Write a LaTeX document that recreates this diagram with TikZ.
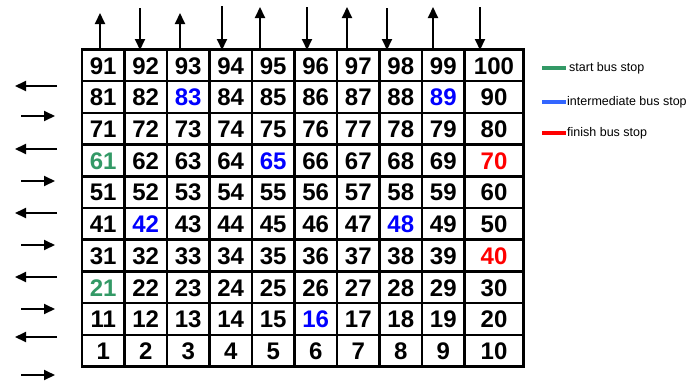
\documentclass[tikz,border=0pt]{standalone}
\usepackage{fontspec}
\setmainfont{Liberation Sans}
\usetikzlibrary{positioning, arrows.meta}
\definecolor{startgreen}{HTML}{339966}
\definecolor{midblue}{HTML}{0000FF}
\definecolor{legblue}{HTML}{3366FF}
\definecolor{finishred}{HTML}{FF0000}

\tikzset{
  cell/.style={draw, line width=2.5pt, outer sep=0pt, inner sep=0pt,
    minimum width=42.5pt, minimum height=31.7pt, anchor=north west,
    text height=17.5pt, text depth=0pt,
    font=\bfseries\fontsize{24}{24}\selectfont},
  busarrow/.style={line width=2pt, -{Triangle[length=11pt, width=10pt]}},
  legline/.style={line width=3.5pt},
  legtext/.style={anchor=west, inner sep=0pt, font=\fontsize{12.5}{15}\selectfont},
  % stop colours
  num21/.style={text=startgreen}, num61/.style={text=startgreen},
  num16/.style={text=midblue}, num42/.style={text=midblue},
  num48/.style={text=midblue}, num65/.style={text=midblue},
  num83/.style={text=midblue}, num89/.style={text=midblue},
  num40/.style={text=finishred}, num70/.style={text=finishred}
}

\begin{document}
\begin{tikzpicture}[x=1pt, y=-1pt]
  \useasboundingbox (0,0) rectangle (696,381);

  % grid of stops
  \foreach \r in {0,...,9} {
    \foreach \c in {0,...,9} {
      \pgfmathtruncatemacro{\n}{(9-\r)*10+\c+1}
      \ifnum\c=9
        \node (c\n) [cell, minimum width=59pt, num\n/.try] at (82+\c*42.5, 49.5+\r*31.7) {\n};
      \else
        \node (c\n) [cell, num\n/.try] at (82+\c*42.5, 49.5+\r*31.7) {\n};
      \fi
    }
  }

  % arrows above the grid
  \foreach \x/\ytip [count=\k] in {100/13, 180/13, 260/7, 347/7, 433/7} {
    \coordinate (upfoot\k) at (\x,50);
    \coordinate (uptip\k) at (\x,\ytip);
    \draw[busarrow] (upfoot\k) -- (uptip\k);
  }
  \foreach \x/\ytop [count=\k] in {140/8, 222/6, 307/7, 387/8, 480/7} {
    \coordinate (downtop\k) at (\x,\ytop);
    \coordinate (downtip\k) at (\x,50);
    \draw[busarrow] (downtop\k) -- (downtip\k);
  }

  % arrows left of the grid
  \foreach \y [count=\k] in {86, 149, 213, 277, 337} {
    \coordinate (leftfrom\k) at (57,\y);
    \coordinate (leftto\k) at (15,\y);
    \draw[busarrow] (leftfrom\k) -- (leftto\k);
  }
  \foreach \y [count=\k] in {116, 181, 245, 309, 375} {
    \coordinate (rightfrom\k) at (21,\y);
    \coordinate (rightto\k) at (55,\y);
    \draw[busarrow] (rightfrom\k) -- (rightto\k);
  }

  % legend
  \node (lgstart) [legtext] at (569,68) {start bus stop};
  \node (lgmid) [legtext] at (567,102) {intermediate bus stop};
  \node (lgend) [legtext] at (567,133) {finish bus stop};
  \coordinate (lsstart) at (542,68);
  \coordinate (lsmid) at (542,102);
  \coordinate (lsend) at (542,133);
  \draw[legline, startgreen] (lsstart) -- ([xshift=-3pt]lgstart.west);
  \draw[legline, legblue] (lsmid) -- ([xshift=-1pt]lgmid.west);
  \draw[legline, finishred] (lsend) -- ([xshift=-1pt]lgend.west);
\end{tikzpicture}
\end{document}
